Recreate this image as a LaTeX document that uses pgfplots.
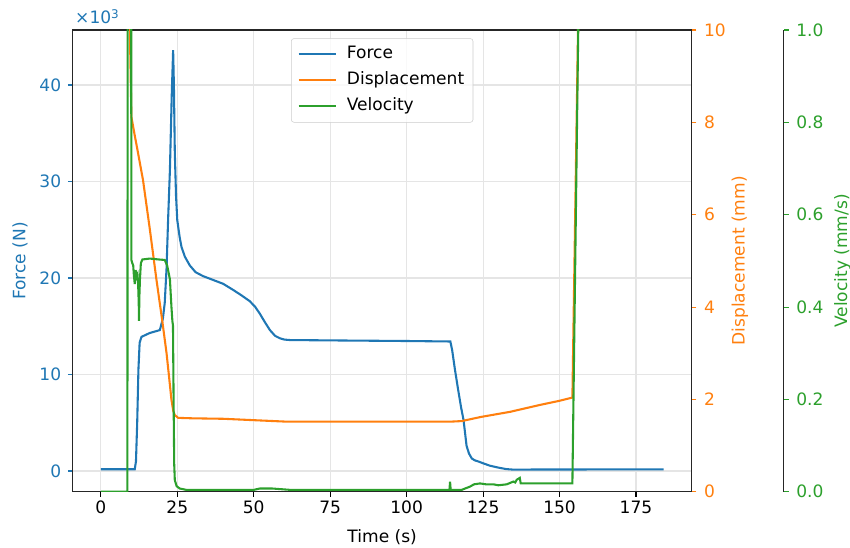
\documentclass[border=0pt]{standalone}
\usepackage{fontspec}
\setmainfont{DejaVu Sans}
\usepackage{pgfplots}
\pgfplotsset{compat=1.18}
\definecolor{fblue}{HTML}{1F77B4}
\definecolor{forange}{HTML}{FF7F0E}
\definecolor{fgreen}{HTML}{2CA02C}
\pgfplotsset{
  base/.style={
    width=464.25pt, height=346.3pt, scale only axis,
    at={(0,0)}, anchor=south west,
    xmin=-9.2, xmax=193.2,
    tick align=outside,
    major tick length=3.6pt,
    /pgf/number format/assume math mode=true,
    axis line style={black!85, line width=0.8pt},
    every tick/.style={line width=0.8pt},
  }
}
\begin{document}
\begin{tikzpicture}[font=\fontsize{12.8}{15}\selectfont]
\path[use as bounding box] (-54.5pt,-41.5pt) rectangle (583pt,368.8pt);
% ---- Force axis
\begin{axis}[base, name=fax,
  ymin=-2.15, ymax=45.7,
  xtick={0,25,50,75,100,125,150,175},
  ytick={0,10,20,30,40},
  xtick pos=left, ytick pos=left,
  grid=major, grid style={black!10, line width=0.8pt},
  y tick style={fblue, line width=0.8pt}, yticklabel style={text=fblue, xshift=-1.5pt},
  x tick style={black, line width=0.8pt},
  xticklabel style={yshift=0pt},
  scaled y ticks=false,
  xlabel={Time (s)}, ylabel={Force (N)},
  every axis x label/.style={at={(axis description cs:0.5,-0.0975)}, anchor=center},
  every axis y label/.style={at={(axis description cs:-0.0851,0.5)}, rotate=90, anchor=center, text=fblue},
]
\addplot[fblue, line width=1.56pt] coordinates {
(0,0.18)(11.1,0.18)(11.5,1.0)(11.9,5.0)(12.3,10.5)(12.7,13.3)(13.3,13.9)(16,14.3)(19.3,14.6)(20.3,15.8)(20.9,17.4)(21.5,21)(22.0,26)(22.6,31.2)(23.2,39)(23.65,43.6)(23.9,40)(24.2,33)(24.6,28.5)(25.0,26)(25.8,24.2)(26.4,23.2)(27.5,22.2)(29.1,21.3)(31,20.6)(33.4,20.2)(36.7,19.8)(40,19.4)(43.3,18.76)(46,18.2)(48.7,17.6)(50.5,17.0)(52,16.3)(53.7,15.4)(55.3,14.6)(57,14.0)(58.6,13.75)(60,13.62)(61.8,13.57)(80,13.52)(100,13.47)(114.3,13.42)(114.9,12.5)(115.8,10.5)(116.8,8.5)(117.8,6.6)(118.6,5.3)(119.6,2.6)(120.4,1.8)(121.3,1.3)(122.3,1.1)(123.6,0.97)(125,0.8)(127.2,0.55)(130,0.35)(132.5,0.2)(134.5,0.15)(140,0.15)(184,0.17)
};
\end{axis}
\node[text=fblue, anchor=base west, inner sep=0pt, xshift=1.7pt, yshift=4.5pt] at (fax.north west) {×10\textsuperscript{3}};
% ---- Displacement axis
\begin{axis}[base,
  ymin=0, ymax=10, ytick={0,2,4,6,8,10},
  axis x line=none, axis y line*=right,
  y tick style={forange, line width=0.8pt}, yticklabel style={text=forange, xshift=2.2pt},
  ylabel={Displacement (mm)},
  every axis y label/.style={at={(axis description cs:1.078,0.5)}, rotate=90, anchor=center, text=forange},
]
\addplot[forange, line width=1.56pt] coordinates {
(0,12)(9.3,12)(9.5,10)(10.0,8.12)(11,7.75)(12,7.4)(13.8,6.75)(16,5.7)(18.2,4.59)(20,3.75)(21.5,3.0)(22.3,2.5)(23.1,1.99)(23.7,1.75)(24.2,1.66)(25.3,1.60)(30,1.59)(40,1.58)(50,1.55)(60,1.52)(80,1.52)(100,1.52)(115,1.52)(118,1.53)(124.3,1.62)(133.8,1.73)(143.6,1.88)(150,1.97)(154.2,2.04)(156.5,12)(184,12)
};
\end{axis}
% ---- Velocity data axis
\begin{axis}[base,
  ymin=0, ymax=1, hide axis,
  legend cell align=left,
  legend image code/.code={\draw[#1] (0pt,0pt) -- (27.8pt,0pt);},
  legend style={at={(0.5,0.982)}, anchor=north, draw=black!20, rounded corners=2pt,
    fill=white, fill opacity=0.8, text opacity=1, inner xsep=4.6pt, inner ysep=3.8pt,
    row sep=3.3pt, font=\fontsize{12.8}{15}\selectfont,
    nodes={inner sep=2pt, text height=9.5pt, text depth=2.7pt},
    /tikz/every odd column/.append style={column sep=5.7pt}},
]
\addlegendimage{fblue, line width=1.56pt}
\addlegendimage{forange, line width=1.56pt}
\addplot[fgreen, line width=1.56pt] coordinates {
(0,0)(8.7,0)(8.8,1.5)(9.9,1.5)(10.0,0.502)(10.3,0.495)(10.6,0.49)(10.8,0.47)(11.1,0.45)(11.4,0.48)(11.7,0.465)(12.0,0.47)(12.2,0.45)(12.4,0.41)(12.5,0.37)(12.6,0.42)(12.8,0.46)(13.1,0.495)(13.6,0.503)(16,0.505)(19,0.503)(20.9,0.502)(21.7,0.49)(22.6,0.46)(23.1,0.40)(23.4,0.37)(23.6,0.36)(23.8,0.2)(24.0,0.06)(24.2,0.025)(24.8,0.012)(25.8,0.007)(28,0.004)(50,0.004)(52,0.007)(56,0.007)(60,0.005)(62,0.004)(114.0,0.004)(114.2,0.022)(114.4,0.004)(118,0.004)(119.5,0.008)(120.7,0.011)(122,0.016)(124,0.018)(126,0.016)(128.4,0.016)(130,0.014)(132.7,0.016)(134.9,0.022)(135.5,0.02)(136,0.026)(136.5,0.028)(137,0.03)(137.3,0.018)(154.2,0.018)(156.5,1.2)(184,1.2)
};
\legend{Force,Displacement,Velocity}
\end{axis}
% ---- Velocity spine (offset)
\begin{axis}[base, at={(69.2pt,0)},
  xmin=0, xmax=1, ymin=0, ymax=1,
  axis x line=none, axis y line*=right,
  ytick={0,0.2,0.4,0.6,0.8,1.0},
  y tick style={fgreen, line width=0.8pt},
  yticklabel style={text=fgreen, xshift=2.2pt, /pgf/number format/fixed, /pgf/number format/fixed zerofill, /pgf/number format/precision=1},
  scaled y ticks=false,
  ylabel={Velocity (mm/s)},
  every axis y label/.style={at={(axis description cs:1.0945,0.5)}, rotate=90, anchor=center, text=fgreen},
]
\addplot[draw=none] coordinates {(0.5,0.5)};
\end{axis}
\end{tikzpicture}
\end{document}
